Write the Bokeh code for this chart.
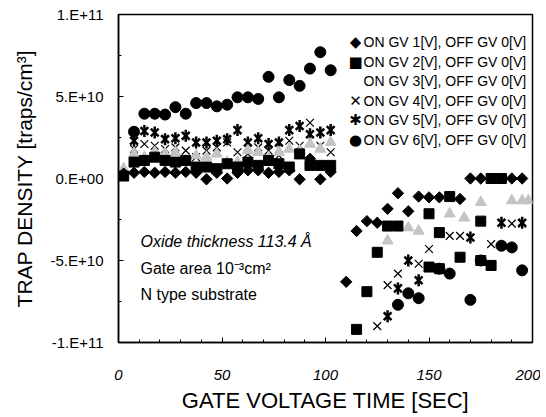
import math
from bokeh.plotting import figure
from bokeh.models import Label, FixedTicker, Range1d, CustomJSTickFormatter
from bokeh.embed import file_html
from bokeh.resources import INLINE

UNIT = 1e10  # values below are in units of 1e10 traps/cm^3

# ---------------- data ----------------
s1_t = [2.5, 7.5, 12.5, 17.5, 22.5, 27.5, 32.5, 37.5, 42.5, 47.5, 52.5, 57.5, 62.5, 67.5, 72.5,
        77.5, 82.5, 87.5, 92.5, 97.5, 102.5,
        110, 115, 120, 125, 130, 135, 140, 145, 150, 155, 165, 170, 175, 190, 195]
s1_v = [0.3, 0.35, 0.4, 0.35, 0.4, 0.35, 0.4, 0.35, -0.05, 0.35, 0.0, 0.35, 0.5, 0.5, 0.35,
        0.4, 0.5, -0.05, 1.2, -0.05, 0.4,
        -6.3, -3.2, -2.6, -2.7, -1.85, -0.9, -2.0, -1.1, -1.15, -1.15, -1.25, 0.0, 0.0, 0.0, 0.0]

s2_t = [2.5, 7.5, 12.5, 17.5, 22.5, 27.5, 32.5, 37.5, 42.5, 47.5, 52.5, 57.5, 62.5, 67.5, 72.5,
        77.5, 82.5, 87.5, 92.5, 97.5, 102.5,
        115, 120, 125, 130, 135, 150, 150, 155, 155, 160, 165, 175, 175, 180, 180, 185]
s2_v = [0.15, 1.0, 1.1, 1.3, 1.1, 1.0, 1.1, 0.7, 0.7, 0.6, 0.9, 0.7, 1.0, 0.8, 1.1,
        0.9, 0.7, 1.5, 0.8, 0.8, 0.8,
        -9.2, -6.9, -4.5, -2.9, -2.9, -2.15, -5.4, -3.3, -5.5, -1.1, -4.8, -2.6, -5.0, -5.3, 0.0, 0.0]

s3_t = [2.5, 7.5, 12.5, 17.5, 22.5, 27.5, 32.5, 37.5, 42.5, 47.5, 52.5, 57.5, 62.5, 67.5, 72.5,
        77.5, 82.5, 87.5, 92.5, 97.5, 102.5,
        130, 140, 145, 160, 167, 175, 190, 195, 198]
s3_v = [0.6, 1.5, 1.3, 1.6, 1.5, 1.6, 1.1, 1.4, 1.3, 1.5, 1.0, 1.0, 1.7, 1.6, 1.3,
        1.6, 1.8, 1.7, 2.1, 1.8, 2.2,
        -3.8, -3.0, -3.2, -2.15, -2.4, -1.45, -1.35, -1.35, -1.35]

s4_t = [7.5, 12.5, 17.5, 22.5, 27.5, 32.5, 37.5, 42.5, 47.5, 52.5, 57.5, 62.5, 67.5, 72.5,
        77.5, 82.5, 87.5, 92.5, 97.5, 102.5,
        125, 130, 135, 145, 150, 160, 165, 180, 190, 195]
s4_v = [1.8, 2.1, 2.0, 1.8, 1.9, 1.7, 1.3, 1.7, 1.9, 2.2, 1.6, 1.5, 1.9, 1.7,
        1.4, 2.3, 2.0, 3.4, 2.0, 1.6,
        -9.0, -6.5, -5.8, -5.2, -4.3, -3.5, -3.5, -4.0, -2.75, -2.75]

s5_t = [7.5, 12.5, 17.5, 22.5, 27.5, 32.5, 37.5, 42.5, 47.5, 52.5, 57.5, 62.5, 67.5, 72.5,
        77.5, 82.5, 87.5, 92.5, 97.5, 102.5,
        130, 135, 140, 145, 170, 185, 195]
s5_v = [2.3, 2.9, 2.8, 2.4, 2.45, 2.6, 2.2, 2.2, 2.3, 2.4, 2.95, 2.2, 2.45, 2.1,
        2.2, 2.95, 3.2, 2.7, 2.8, 2.95,
        -8.4, -6.7, -5.0, -6.2, -3.6, -2.7, -2.7]

s6_t = [7.5, 12.5, 17.5, 22.5, 27.5, 32.5, 37.5, 42.5, 47.5, 52.5, 57.5, 62.5, 67.5, 72.5,
        77.5, 82.5, 87.5, 92.5, 97.5, 102.5,
        135, 140, 145, 155, 160, 170, 175, 185, 190, 195]
s6_v = [2.85, 3.95, 3.95, 3.9, 4.35, 3.95, 4.6, 4.6, 4.4, 4.5, 4.95, 4.95, 4.85, 6.2,
        4.95, 6.0, 5.65, 6.7, 7.7, 6.6,
        -7.7, -7.0, -7.3, -5.5, -5.8, -7.4, -5.0, -4.1, -4.2, -5.6]

legend_labels = ["ON GV 1[V], OFF GV 0[V]", "ON GV 2[V], OFF GV 0[V]", "ON GV 3[V], OFF GV 0[V]",
                 "ON GV 4[V], OFF GV 0[V]", "ON GV 5[V], OFF GV 0[V]", "ON GV 6[V], OFF GV 0[V]"]
legend_symbols = ["\u25C6", "\u25A0", "", "\u2715", "\u2731", "\u25CF"]

x_ticks = [0, 50, 100, 150, 200]
y_ticks = [-1e11, -5e10, 0, 5e10, 1e11]
y_tick_labels = ["-1.E+11", "-5.E+10", "0.E+00", "5.E+10", "1.E+11"]

notes = ["Oxide thickness 113.4 \u00C5", "Gate area 10\u207B\u00B3cm\u00B2", "N type substrate"]

FONT = "Liberation Sans"

def sc(vals):
    return [v * UNIT for v in vals]

p = figure(frame_width=414, frame_height=328,
           x_range=Range1d(0, 200), y_range=Range1d(-1e11, 1e11),
           output_backend="svg", toolbar_location=None,
           min_border_left=118, min_border_right=8, min_border_top=14, min_border_bottom=74)
p.grid.visible = False
p.outline_line_color = "black"
p.outline_line_width = 1.5
p.outline_line_alpha = 1.0
p.background_fill_color = "white"
p.border_fill_color = "white"

# series (drawn back to front)
p.scatter(s6_t, sc(s6_v), marker="circle", size=11, fill_color="black", line_color="black")
p.scatter(s5_t, sc(s5_v), marker="x", size=11, line_color="black", line_width=2.5)
p.scatter(s5_t, sc(s5_v), marker="dash", angle=math.pi / 2, size=12, line_color="black", line_width=2.5)
p.scatter(s4_t, sc(s4_v), marker="x", size=11, line_color="black", line_width=1.2)
p.scatter(s3_t, sc(s3_v), marker="triangle", size=11, fill_color="#c4c4c4", line_color="#c4c4c4")
p.scatter(s2_t, sc(s2_v), marker="square", size=10, fill_color="black", line_color="black")
p.scatter(s1_t, sc(s1_v), marker="square", angle=math.pi / 4, size=8, fill_color="black", line_color="black")

# axes
p.xaxis.ticker = FixedTicker(ticks=x_ticks, minor_ticks=list(range(0, 201, 10)))
p.yaxis.ticker = FixedTicker(ticks=y_ticks, minor_ticks=[-1e11, -7.5e10, -5e10, -2.5e10, 0, 2.5e10, 5e10, 7.5e10, 1e11])
p.yaxis.formatter = CustomJSTickFormatter(args=dict(tv=y_ticks, tl=y_tick_labels), code="""
const i = tv.findIndex(t => Math.abs(t - tick) < 1);
return i >= 0 ? tl[i] : '';
""")
for ax in (p.xaxis[0], p.yaxis[0]):
    ax.axis_line_color = "black"
    ax.axis_line_width = 1.5
    ax.major_tick_in = 5
    ax.major_tick_out = 0
    ax.minor_tick_in = 3
    ax.minor_tick_out = 0
    ax.major_tick_line_color = "black"
    ax.minor_tick_line_color = "black"
    ax.major_label_text_font = FONT
    ax.major_label_text_color = "black"
    ax.major_label_text_font_size = "15px"
    ax.axis_label_text_font = FONT
    ax.axis_label_text_font_style = "normal"
    ax.axis_label_text_color = "black"
    ax.axis_label_text_font_size = "22px"

p.xaxis.major_label_text_font_style = "italic"
p.xaxis.major_label_standoff = 27
p.xaxis.axis_label = "GATE VOLTAGE TIME [SEC]"
p.xaxis.axis_label_standoff = 5
p.yaxis.major_label_standoff = 15
p.yaxis.axis_label = "TRAP DENSITY [traps/cm\u00B3]"
p.yaxis.axis_label_text_font_size = "21px"
p.yaxis.axis_label_standoff = 12

# legend (text based, top right inside the frame)
leg_sym_x = 114.5
leg_txt_x = 118.4
leg_y0 = 8.3
leg_dy = 1.19
for i, (sym, lab) in enumerate(zip(legend_symbols, legend_labels)):
    yy = (leg_y0 - i * leg_dy) * UNIT
    if sym:
        p.add_layout(Label(x=leg_sym_x, y=yy, text=sym, text_align="center", text_baseline="middle",
                           text_font="DejaVu Sans", text_font_size="15px", text_color="black"))
    p.add_layout(Label(x=leg_txt_x, y=yy, text=lab, text_align="left", text_baseline="middle",
                       text_font=FONT, text_font_size="14px", text_color="black"))

# notes
note_x = 10.6
note_y = [-3.84, -5.49, -7.07]
note_style = ["italic", "normal", "normal"]
for txt, yy, st in zip(notes, note_y, note_style):
    p.add_layout(Label(x=note_x, y=yy * UNIT, text=txt, text_align="left", text_baseline="middle",
                       text_font=FONT, text_font_size="16px", text_font_style=st, text_color="black"))

open("out.html", "w").write(file_html(p, INLINE))
